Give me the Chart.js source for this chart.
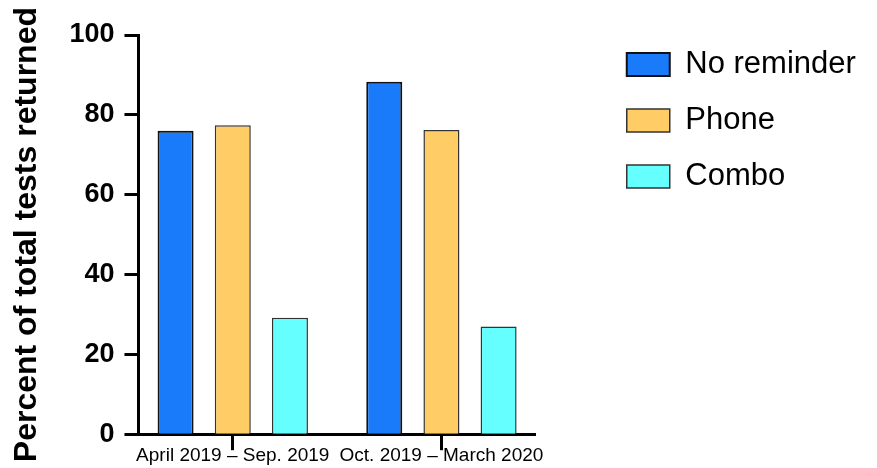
<!DOCTYPE html>
<html>
<head>
<meta charset="utf-8">
<script src="https://cdn.jsdelivr.net/npm/chart.js@4/dist/chart.umd.min.js"></script>
<style>
  html, body { margin: 0; padding: 0; background: #fff; }
  #wrap { width: 877px; height: 468px; }
</style>
</head>
<body>
<div id="wrap"><canvas id="chart"></canvas></div>
<script>
const periods = ['April 2019 \u2013 Sep. 2019', 'Oct. 2019 \u2013 March 2020'];
const noReminder = [76, 88.3];
const phone = [77.4, 76.2];
const combo = [29.2, 27];
const yTicks = [0, 20, 40, 60, 80, 100];

const FONT = '"Liberation Sans", Arial, Helvetica, sans-serif';
const LEGEND_EXTRA = 124; // extra room taken by the legend box
const LEGEND_SHIFT = 66;  // how far the legend items move right inside it
const LEGEND_LIFT = 11;
// the two groups sit a bit wider apart than half-category offsets give
const X_START = -0.452;
const X_RANGE = 1.904;

// leave an empty gap between plot and legend
const legendGap = {
  id: 'legendGap',
  beforeInit(chart) {
    const fit = chart.legend.fit;
    chart.legend.fit = function () {
      fit.bind(chart.legend)();
      this.width += LEGEND_EXTRA;
    };
  },
  afterLayout(chart) {
    chart.legend.left += LEGEND_SHIFT;
    chart.legend.top -= LEGEND_LIFT;
  }
};

new Chart(document.getElementById('chart'), {
  type: 'bar',
  data: {
    labels: periods,
    datasets: [
      { label: 'No reminder', data: noReminder, backgroundColor: '#1a7bfa', borderColor: '#111', borderWidth: 2 },
      { label: 'Phone', data: phone, backgroundColor: '#ffcc66', borderColor: '#333', borderWidth: 1.5 },
      { label: 'Combo', data: combo, backgroundColor: '#66ffff', borderColor: '#333', borderWidth: 1.5 }
    ]
  },
  options: {
    responsive: true,
    maintainAspectRatio: false,
    animation: false,
    categoryPercentage: 0.822,
    barPercentage: 0.63,
    layout: { padding: { top: 35, left: 8, right: 0, bottom: 1 } },
    plugins: {
      tooltip: { enabled: false },
      legend: {
        position: 'right',
        align: 'start',
        labels: {
          boxWidth: 43,
          boxHeight: 23,
          padding: 25,
          color: '#000',
          font: { family: FONT, size: 31 }
        }
      }
    },
    scales: {
      x: {
        offset: false,
        afterBuildTicks(scale) {
          scale._startValue = X_START;
          scale._valueRange = X_RANGE;
        },
        afterFit(scale) { scale.height += 6; }, // labels sit over the tick marks
        border: { color: '#000', width: 3 },
        grid: { offset: false, drawOnChartArea: false, tickLength: 16, tickWidth: 3, tickColor: '#000' },
        ticks: { color: '#000', padding: -6, maxRotation: 0, autoSkip: false, font: { family: FONT, size: 19 } }
      },
      y: {
        min: 0,
        max: 100,
        afterBuildTicks(axis) { axis.ticks = yTicks.map(v => ({ value: v })); },
        border: { color: '#000', width: 3 },
        grid: { drawOnChartArea: false, tickLength: 14, tickWidth: 3, tickColor: '#000' },
        ticks: { color: '#000', padding: 10, font: { family: FONT, size: 27, weight: 'bold' } },
        title: {
          display: true,
          text: 'Percent of total tests returned',
          color: '#000',
          padding: { top: 0, bottom: 13 },
          font: { family: FONT, size: 32, weight: 'bold' }
        }
      }
    }
  },
  plugins: [legendGap]
});
</script>
</body>
</html>
